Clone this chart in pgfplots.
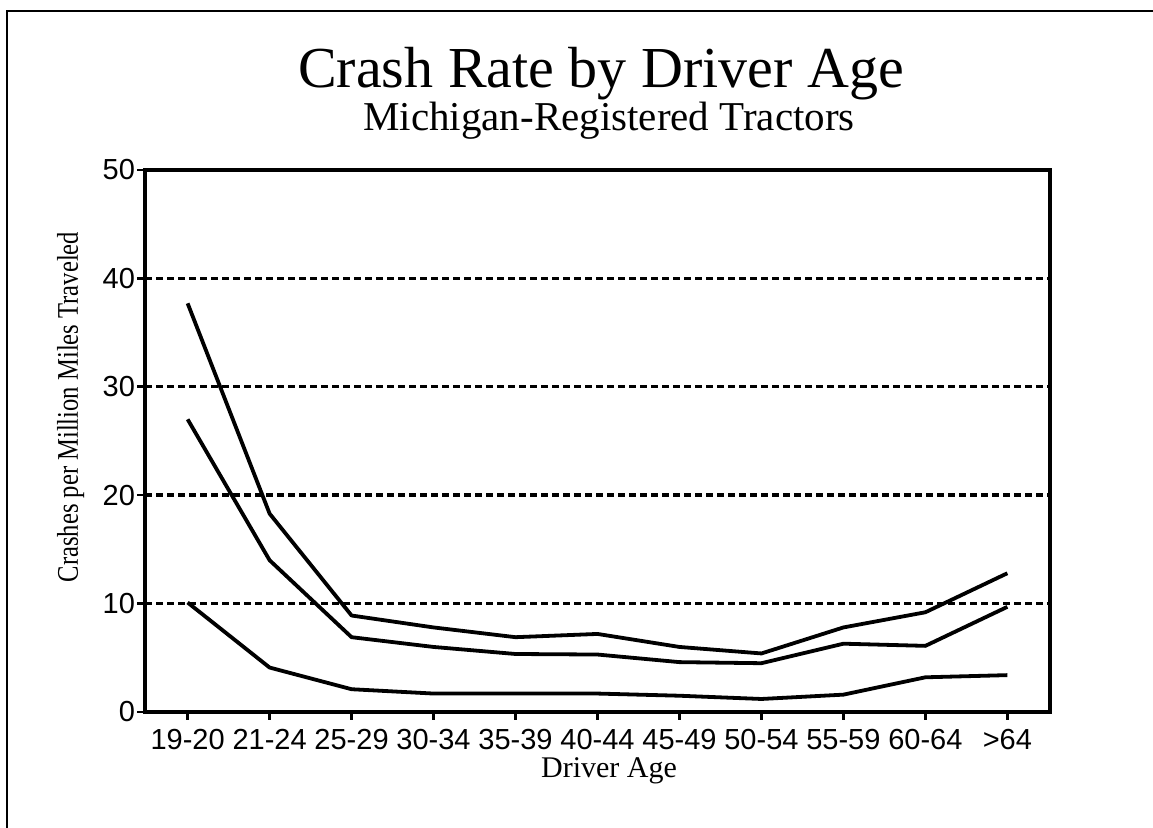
\documentclass[border=0pt]{standalone}
\usepackage{fontspec}
\usepackage{pgfplots}
\pgfplotsset{compat=1.18}
\setmainfont{Liberation Serif}
\newfontfamily\sansf{Liberation Sans}
% the vertical label is set narrower in the original
\newfontfamily\ylabfont{Liberation Serif}[FakeStretch=0.82]

\begin{document}
\begin{tikzpicture}
\path[use as bounding box] (0,0) rectangle (576.5pt,414pt);
% frame of the page (left and top edges only)
\draw[line width=1pt] (3.5pt,0pt) -- (3.5pt,408.5pt) -- (576.5pt,408.5pt);

\begin{axis}[
    at={(72.5pt,58pt)}, anchor=south west,
    scale only axis,
    width=452.5pt, height=271pt,
    xmin=-0.52, xmax=10.52,
    ymin=0, ymax=50,
    xtick={0,...,10},
    xticklabels={19-20,21-24,25-29,30-34,35-39,40-44,45-49,50-54,55-59,60-64,>64},
    ytick={0,10,20,30,40,50},
    xtick pos=bottom, ytick pos=left,
    tick align=outside,
    major tick length=4pt,
    axis line style={line width=1.6pt},
    every tick/.style={black, line width=1.3pt},
    ticklabel style={font=\sansf\fontsize{14.5}{16}\selectfont},
    /pgf/number format/assume math mode=true,
    yticklabel style={xshift=2.5pt},
    xticklabel style={yshift=-1pt},
]
% dashed reference lines
\addplot[black, line width=1.7pt, dash pattern=on 3.5pt off 2pt, forget plot]
    coordinates {(-0.52,10) (10.52,10)};
\addplot[black, line width=1.7pt, dash pattern=on 3.5pt off 2pt, forget plot]
    coordinates {(-0.52,20) (10.52,20)};
\addplot[black, line width=1.7pt, dash pattern=on 3.5pt off 2pt, forget plot]
    coordinates {(-0.52,30) (10.52,30)};
\addplot[black, line width=1.7pt, dash pattern=on 3.5pt off 2pt, forget plot]
    coordinates {(-0.52,40) (10.52,40)};

% three crash-rate curves
\addplot[black, line width=1.9pt, line join=round] coordinates {
    (0,37.7) (1,18.3) (2,8.9) (3,7.8) (4,6.9) (5,7.2) (6,6.0) (7,5.4) (8,7.8) (9,9.2) (10,12.8)};
\addplot[black, line width=1.9pt, line join=round] coordinates {
    (0,27.0) (1,14.0) (2,6.9) (3,6.0) (4,5.35) (5,5.3) (6,4.6) (7,4.5) (8,6.3) (9,6.1) (10,9.7)};
\addplot[black, line width=1.9pt, line join=round] coordinates {
    (0,10.1) (1,4.1) (2,2.1) (3,1.7) (4,1.7) (5,1.7) (6,1.5) (7,1.2) (8,1.6) (9,3.2) (10,3.4)};
\end{axis}

\node[anchor=base, font=\fontsize{29}{32}\selectfont] at (300.5pt,370pt) {Crash Rate by Driver Age};
\node[anchor=base, font=\fontsize{20.5}{23}\selectfont] at (304.5pt,348.5pt) {Michigan-Registered Tractors};
\node[anchor=base, font=\fontsize{15}{17}\selectfont] at (304.5pt,25pt) {Driver Age};
\node[anchor=base, rotate=90, font=\ylabfont\fontsize{15}{17}\selectfont] at (39pt,210.5pt) {Crashes per Million Miles Traveled};
\end{tikzpicture}
\end{document}
